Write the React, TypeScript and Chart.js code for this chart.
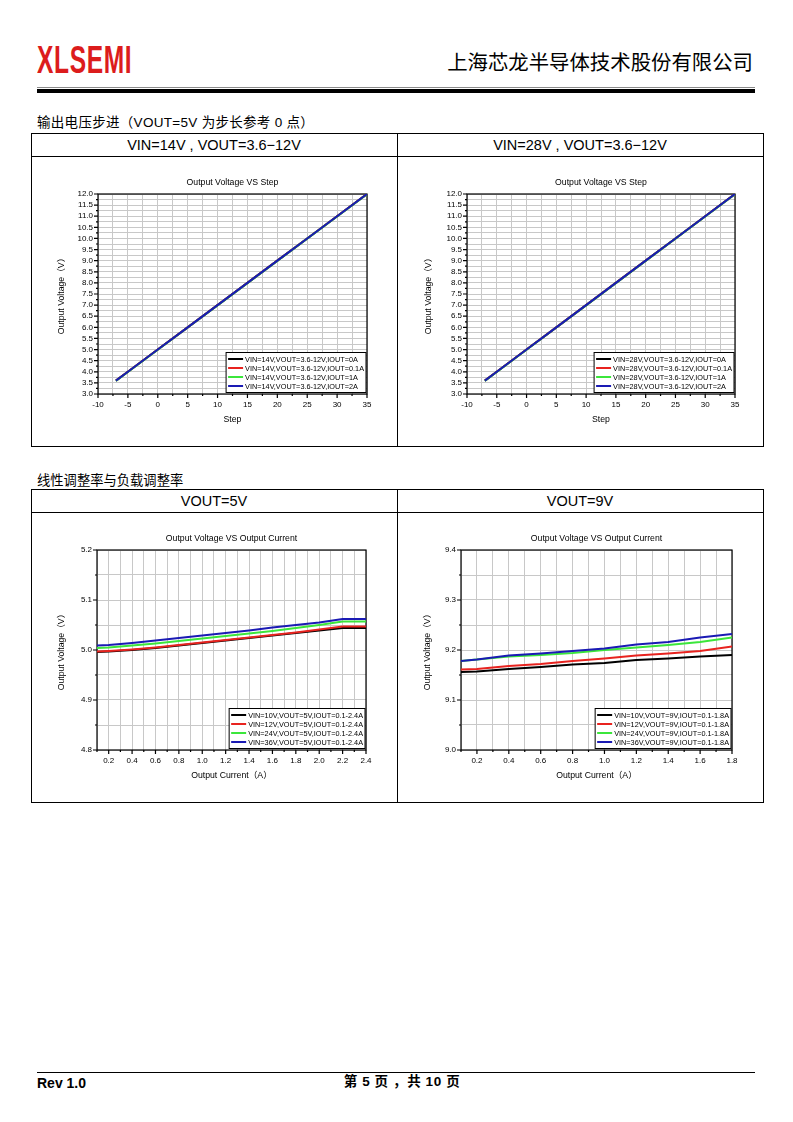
import React, { useEffect, useRef } from "react";
import { Chart, registerables } from "chart.js";

Chart.register(...registerables);

// ---------------- data ----------------
// Output voltage vs step
const stepX = [-7, -5, 0, 5, 10, 15, 20, 25, 30, 35];
const vin14_iout0A = [3.6, 4.0, 5.0, 6.0, 7.0, 8.0, 9.0, 10.0, 11.0, 12.0];
const vin14_iout01A = [3.6, 4.0, 5.0, 6.0, 7.0, 8.0, 9.0, 10.0, 11.0, 12.0];
const vin14_iout1A = [3.59, 3.99, 4.99, 5.99, 6.99, 7.99, 8.99, 9.99, 10.99, 11.99];
const vin14_iout2A = [3.6, 4.0, 5.0, 6.0, 7.0, 8.0, 9.0, 10.0, 11.0, 12.0];
const vin28_iout0A = [3.6, 4.0, 5.0, 6.0, 7.0, 8.0, 9.0, 10.0, 11.0, 12.0];
const vin28_iout01A = [3.6, 4.0, 5.0, 6.0, 7.0, 8.0, 9.0, 10.0, 11.0, 12.0];
const vin28_iout1A = [3.59, 3.99, 4.99, 5.99, 6.99, 7.99, 8.99, 9.99, 10.99, 11.99];
const vin28_iout2A = [3.6, 4.0, 5.0, 6.0, 7.0, 8.0, 9.0, 10.0, 11.0, 12.0];
const step14Labels = [
  "VIN=14V,VOUT=3.6-12V,IOUT=0A",
  "VIN=14V,VOUT=3.6-12V,IOUT=0.1A",
  "VIN=14V,VOUT=3.6-12V,IOUT=1A",
  "VIN=14V,VOUT=3.6-12V,IOUT=2A",
];
const step28Labels = [
  "VIN=28V,VOUT=3.6-12V,IOUT=0A",
  "VIN=28V,VOUT=3.6-12V,IOUT=0.1A",
  "VIN=28V,VOUT=3.6-12V,IOUT=1A",
  "VIN=28V,VOUT=3.6-12V,IOUT=2A",
];

// Output voltage vs output current, VOUT=5V
const cur5X = [0.1, 0.2, 0.4, 0.6, 0.8, 1.0, 1.2, 1.4, 1.6, 1.8, 2.0, 2.2, 2.4];
const v5_vin10 = [4.996, 4.997, 5.0, 5.004, 5.009, 5.014, 5.019, 5.024, 5.029, 5.034, 5.039, 5.044, 5.044];
const v5_vin12 = [4.997, 4.998, 5.001, 5.005, 5.01, 5.015, 5.02, 5.025, 5.03, 5.035, 5.041, 5.047, 5.047];
const v5_vin24 = [5.004, 5.005, 5.009, 5.013, 5.018, 5.023, 5.028, 5.033, 5.038, 5.044, 5.05, 5.057, 5.057];
const v5_vin36 = [5.009, 5.01, 5.014, 5.019, 5.024, 5.029, 5.034, 5.039, 5.045, 5.05, 5.055, 5.062, 5.062];
const cur5Labels = [
  "VIN=10V,VOUT=5V,IOUT=0.1-2.4A",
  "VIN=12V,VOUT=5V,IOUT=0.1-2.4A",
  "VIN=24V,VOUT=5V,IOUT=0.1-2.4A",
  "VIN=36V,VOUT=5V,IOUT=0.1-2.4A",
];

// Output voltage vs output current, VOUT=9V
const cur9X = [0.1, 0.2, 0.4, 0.6, 0.8, 1.0, 1.2, 1.4, 1.6, 1.8];
const v9_vin10 = [9.156, 9.157, 9.162, 9.166, 9.171, 9.174, 9.18, 9.183, 9.187, 9.19];
const v9_vin12 = [9.161, 9.162, 9.168, 9.172, 9.178, 9.183, 9.189, 9.193, 9.198, 9.207];
const v9_vin24 = [9.178, 9.181, 9.187, 9.19, 9.194, 9.2, 9.205, 9.21, 9.216, 9.225];
const v9_vin36 = [9.178, 9.181, 9.189, 9.193, 9.198, 9.203, 9.211, 9.216, 9.225, 9.232];
const cur9Labels = [
  "VIN=10V,VOUT=9V,IOUT=0.1-1.8A",
  "VIN=12V,VOUT=9V,IOUT=0.1-1.8A",
  "VIN=24V,VOUT=9V,IOUT=0.1-1.8A",
  "VIN=36V,VOUT=9V,IOUT=0.1-1.8A",
];

const seriesColors = ["#000000", "#e8231f", "#3be63b", "#1a1ab4"];

// axis tick labels (major) and grid spacing
const stepXMajor = [-10, -5, 0, 5, 10, 15, 20, 25, 30, 35];
const stepYMajor = [3.0, 3.5, 4.0, 4.5, 5.0, 5.5, 6.0, 6.5, 7.0, 7.5, 8.0, 8.5, 9.0, 9.5, 10.0, 10.5, 11.0, 11.5, 12.0];
const cur5XMajor = [0.2, 0.4, 0.6, 0.8, 1.0, 1.2, 1.4, 1.6, 1.8, 2.0, 2.2, 2.4];
const v5YMajor = [4.8, 4.9, 5.0, 5.1, 5.2];
const cur9XMajor = [0.2, 0.4, 0.6, 0.8, 1.0, 1.2, 1.4, 1.6, 1.8];
const v9YMajor = [9.0, 9.1, 9.2, 9.3, 9.4];

// ---------------- chart helpers ----------------
const FONT = '"Liberation Sans", Arial, "Noto Sans CJK SC", sans-serif';

type AxisSpec = { min: number; max: number; grid: number; major: number[]; dec: number; title: string };
type ChartSpec = {
  left: number; top: number; w: number; h: number;
  yAxisW: number; padRight: number; xAxisH: number;
  titleCenter: number; areaTop: number; yTitleX: number; xTitleFromBottom: number;
  title: string;
  x: AxisSpec; y: AxisSpec;
  xs: number[]; series: number[][]; labels: string[];
};

const isMajor = (arr: number[], v: number) => arr.some((m) => Math.abs(m - v) < 1e-7);

function gridTicks(min: number, max: number, step: number) {
  const out: { value: number }[] = [];
  const n = Math.round((max - min) / step);
  for (let i = 0; i <= n; i++) out.push({ value: Math.round((min + i * step) * 1e6) / 1e6 });
  return out;
}

function makeDecor(spec: ChartSpec) {
  return {
    id: "decor",
    beforeDatasetsDraw(chart: any) {
      const { ctx, chartArea: a } = chart;
      const xs = chart.scales.x;
      const ys = chart.scales.y;
      ctx.save();
      ctx.strokeStyle = "#000";
      ctx.lineWidth = 1.2;
      ctx.strokeRect(a.left, a.top, a.right - a.left, a.bottom - a.top);
      ctx.beginPath();
      xs.ticks.forEach((t: any) => {
        const px = xs.getPixelForValue(t.value);
        const len = isMajor(spec.x.major, t.value) ? 4 : 2;
        ctx.moveTo(px, a.bottom);
        ctx.lineTo(px, a.bottom + len);
      });
      ys.ticks.forEach((t: any) => {
        const py = ys.getPixelForValue(t.value);
        const len = isMajor(spec.y.major, t.value) ? 4 : 2;
        ctx.moveTo(a.left, py);
        ctx.lineTo(a.left - len, py);
      });
      ctx.stroke();
      ctx.restore();
    },
    afterDatasetsDraw(chart: any) {
      const { ctx, chartArea: a } = chart;
      ctx.save();
      const fs = 7.3;
      ctx.font = `${fs}px ${FONT}`;
      const tw = Math.max(...spec.labels.map((l) => ctx.measureText(l).width));
      const padL = 2, lineLen = 15, gap = 2, padR = 2, rowH = 9, padV = 2;
      const boxW = padL + lineLen + gap + tw + padR;
      const boxH = rowH * spec.labels.length + padV * 2;
      const right = a.right - 1;
      const bottom = a.bottom - 1.5;
      const left = right - boxW;
      const top = bottom - boxH;
      ctx.fillStyle = "#fff";
      ctx.fillRect(left, top, boxW, boxH);
      ctx.strokeStyle = "#000";
      ctx.lineWidth = 1;
      ctx.strokeRect(left, top, boxW, boxH);
      spec.labels.forEach((lab, i) => {
        const cy = top + padV + rowH * (i + 0.5);
        ctx.strokeStyle = seriesColors[i];
        ctx.lineWidth = 2;
        ctx.beginPath();
        ctx.moveTo(left + padL, cy);
        ctx.lineTo(left + padL + lineLen, cy);
        ctx.stroke();
        ctx.fillStyle = "#000";
        ctx.textBaseline = "middle";
        ctx.textAlign = "left";
        ctx.fillText(lab, left + padL + lineLen + gap, cy + 0.5);
      });
      ctx.restore();
    },
  };
}

function buildConfig(spec: ChartSpec): any {
  const titleFs = 8.7;
  const lh = titleFs * 1.2;
  const axis = (ax: AxisSpec, isX: boolean) => ({
    type: "linear",
    min: ax.min,
    max: ax.max,
    afterBuildTicks: (s: any) => {
      s.ticks = gridTicks(ax.min, ax.max, ax.grid);
    },
    afterFit: (s: any) => {
      if (isX) s.height = spec.xAxisH;
      else s.width = spec.yAxisW;
    },
    ticks: {
      autoSkip: false,
      maxRotation: 0,
      minRotation: 0,
      padding: isX ? 6 : 5,
      color: "#000",
      font: { family: FONT, size: 8 },
      callback: (v: number) => (isMajor(ax.major, v) ? Number(v).toFixed(ax.dec) : ""),
    },
    grid: { color: "#c8c8c8", lineWidth: 1, drawTicks: false },
    border: { display: false },
    title: {
      display: true,
      text: ax.title,
      color: "#000",
      font: { family: FONT, size: titleFs },
      padding: isX
        ? { top: 0, bottom: spec.xTitleFromBottom - lh / 2 }
        : { top: spec.yTitleX - lh / 2, bottom: 0 },
    },
  });
  return {
    type: "line",
    data: {
      datasets: spec.series.map((vals, i) => ({
        label: spec.labels[i],
        data: spec.xs.map((x, j) => ({ x, y: vals[j] })),
        borderColor: seriesColors[i],
        backgroundColor: seriesColors[i],
        borderWidth: 2,
        pointRadius: 0,
        tension: 0,
        fill: false,
        order: spec.series.length - i,
      })),
    },
    options: {
      animation: false,
      responsive: false,
      events: [],
      layout: { padding: { left: 0, right: spec.padRight, top: 0, bottom: 0 } },
      plugins: {
        legend: { display: false },
        tooltip: { enabled: false },
        title: {
          display: true,
          text: spec.title,
          color: "#000",
          fullSize: false,
          font: { family: FONT, size: titleFs, weight: "normal" },
          padding: {
            top: spec.titleCenter - lh / 2,
            bottom: spec.areaTop - spec.titleCenter - lh / 2,
          },
        },
      },
      scales: { x: axis(spec.x, true), y: axis(spec.y, false) },
    },
    plugins: [makeDecor(spec)],
  };
}

function LineChart({ spec }: { spec: ChartSpec }) {
  const ref = useRef<HTMLCanvasElement>(null);
  useEffect(() => {
    const chart = new Chart(ref.current as HTMLCanvasElement, buildConfig(spec));
    return () => chart.destroy();
  }, []);
  return (
    <canvas
      ref={ref}
      width={spec.w}
      height={spec.h}
      style={{ position: "absolute", left: spec.left, top: spec.top, width: spec.w, height: spec.h }}
    />
  );
}

const stepXAxis: AxisSpec = { min: -10, max: 35, grid: 2.5, major: stepXMajor, dec: 0, title: "Step" };
const stepYAxis: AxisSpec = { min: 3, max: 12, grid: 0.25, major: stepYMajor, dec: 1, title: "Output Voltage（V）" };

const chart1: ChartSpec = {
  left: 31, top: 156, w: 366, h: 291, yAxisW: 67, padRight: 30, xAxisH: 53,
  titleCenter: 26.5, areaTop: 38, yTitleX: 31, xTitleFromBottom: 27,
  title: "Output Voltage VS Step", x: stepXAxis, y: stepYAxis,
  xs: stepX, series: [vin14_iout0A, vin14_iout01A, vin14_iout1A, vin14_iout2A], labels: step14Labels,
};
const chart2: ChartSpec = {
  left: 397, top: 156, w: 366, h: 291, yAxisW: 70, padRight: 28, xAxisH: 53,
  titleCenter: 26.5, areaTop: 38, yTitleX: 32, xTitleFromBottom: 27,
  title: "Output Voltage VS Step", x: stepXAxis, y: stepYAxis,
  xs: stepX, series: [vin28_iout0A, vin28_iout01A, vin28_iout1A, vin28_iout2A], labels: step28Labels,
};
const chart3: ChartSpec = {
  left: 31, top: 512, w: 366, h: 290, yAxisW: 66, padRight: 31, xAxisH: 52,
  titleCenter: 26.5, areaTop: 38, yTitleX: 31, xTitleFromBottom: 26,
  title: "Output Voltage VS Output Current",
  x: { min: 0.1, max: 2.4, grid: 0.1, major: cur5XMajor, dec: 1, title: "Output Current（A）" },
  y: { min: 4.8, max: 5.2, grid: 0.05, major: v5YMajor, dec: 1, title: "Output Voltage（V）" },
  xs: cur5X, series: [v5_vin10, v5_vin12, v5_vin24, v5_vin36], labels: cur5Labels,
};
const chart4: ChartSpec = {
  left: 397, top: 512, w: 366, h: 290, yAxisW: 64, padRight: 31, xAxisH: 52,
  titleCenter: 26.5, areaTop: 38, yTitleX: 31, xTitleFromBottom: 26,
  title: "Output Voltage VS Output Current",
  x: { min: 0.1, max: 1.8, grid: 0.1, major: cur9XMajor, dec: 1, title: "Output Current（A）" },
  y: { min: 9.0, max: 9.4, grid: 0.05, major: v9YMajor, dec: 1, title: "Output Voltage（V）" },
  xs: cur9X, series: [v9_vin10, v9_vin12, v9_vin24, v9_vin36], labels: cur9Labels,
};

// ---------------- page ----------------
const CJK = '"Noto Sans CJK SC", "Liberation Sans", sans-serif';
const MIXED = '"Liberation Sans", "Noto Sans CJK SC", sans-serif';

function Txt(props: {
  x: number; y: number; size: number; children: React.ReactNode;
  align?: "left" | "center" | "right"; weight?: number; family?: string; color?: string; cjk?: boolean; ls?: number;
}) {
  const { x, y, size, children, align = "left", weight = 400, family = FONT, color = "#000", cjk = false, ls = 0 } = props;
  const top = y - size * (cjk ? 0.56 : 0.5);
  const style: React.CSSProperties = {
    position: "absolute", top, fontSize: size, lineHeight: `${size}px`, fontFamily: family,
    fontWeight: weight, color, whiteSpace: "nowrap", letterSpacing: ls,
  };
  if (align === "left") style.left = x;
  else if (align === "right") { style.right = 793 - x; }
  else { style.left = x - 300; style.width = 600; style.textAlign = "center"; }
  return <div style={style}>{children}</div>;
}

const Box = ({ l, t, w, h, bg = "#000" }: { l: number; t: number; w: number; h: number; bg?: string }) => (
  <div style={{ position: "absolute", left: l, top: t, width: w, height: h, background: bg }} />
);

function Table({ top, bottom, headerBottom, heads }: { top: number; bottom: number; headerBottom: number; heads: string[] }) {
  return (
    <>
      <Box l={31} t={top} w={733} h={1} />
      <Box l={31} t={bottom} w={733} h={1} />
      <Box l={31} t={headerBottom} w={733} h={1} />
      <Box l={31} t={top} w={1} h={bottom - top + 1} />
      <Box l={763} t={top} w={1} h={bottom - top + 1} />
      <Box l={397} t={top} w={1} h={bottom - top + 1} />
      <Txt x={214} y={(top + headerBottom) / 2 + 0.5} size={14.5} align="center">{heads[0]}</Txt>
      <Txt x={580} y={(top + headerBottom) / 2 + 0.5} size={14.5} align="center">{heads[1]}</Txt>
    </>
  );
}

export default function App() {
  return (
    <div style={{ position: "absolute", left: 0, top: 0, width: 793, height: 1122, background: "#fff" }}>
      <div
        style={{
          position: "absolute", left: 37, top: 40, fontFamily: '"Liberation Sans Narrow", "Liberation Sans", sans-serif',
          fontWeight: 700, fontSize: 39, lineHeight: "39px", color: "#dc1c1c", transform: "scaleX(0.63)",
          transformOrigin: "left top", whiteSpace: "nowrap", letterSpacing: 1,
        }}
      >
        XLSEMI
      </div>
      <Txt x={753} y={62.5} size={20.4} align="right" family={CJK} cjk>上海芯龙半导体技术股份有限公司</Txt>
      <Box l={37} t={86.5} w={718} h={1.2} bg="#8a8a8a" />
      <Box l={37} t={88.5} w={718} h={4} bg="#000" />

      <Txt x={37} y={123.5} size={13.5} family={MIXED} cjk ls={0.3}>输出电压步进（VOUT=5V 为步长参考 0 点）</Txt>
      <Table top={133} bottom={446} headerBottom={156} heads={["VIN=14V , VOUT=3.6−12V", "VIN=28V , VOUT=3.6−12V"]} />
      <LineChart spec={chart1} />
      <LineChart spec={chart2} />

      <Txt x={37} y={480} size={13.3} family={CJK} cjk>线性调整率与负载调整率</Txt>
      <Table top={489} bottom={802} headerBottom={512} heads={["VOUT=5V", "VOUT=9V"]} />
      <LineChart spec={chart3} />
      <LineChart spec={chart4} />

      <Box l={37} t={1072} w={718} h={1} />
      <Txt x={37} y={1083} size={14} weight={700}>Rev 1.0</Txt>
      <Txt x={402} y={1083} size={13.5} weight={700} family={MIXED} align="center" cjk ls={0.6}>第 5 页 ，共 10 页</Txt>
    </div>
  );
}
